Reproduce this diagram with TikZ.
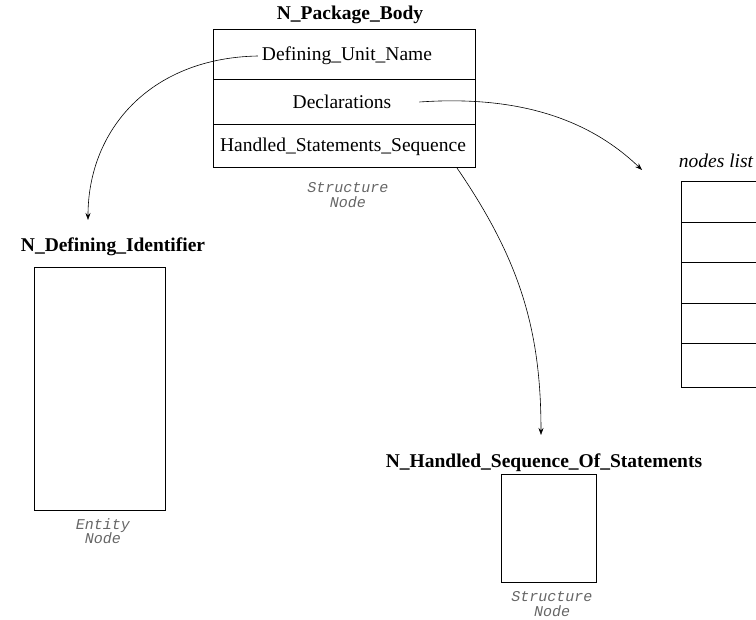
\documentclass[tikz,border=0pt]{standalone}
\usepackage{fontspec}
\setmainfont{Liberation Serif}
\setmonofont{Liberation Mono}
\usetikzlibrary{arrows.meta}
\begin{document}
\begin{tikzpicture}[x=1pt,y=-1pt,
  title/.style={font=\fontsize{19.5}{22}\selectfont\bfseries, inner sep=0pt},
  field/.style={font=\fontsize{19.5}{22}\selectfont, inner sep=0pt},
  row/.style={draw, line width=0.8pt, minimum width=262pt, inner sep=0pt, anchor=north west},
  box/.style={draw, line width=0.8pt, inner sep=0pt, anchor=north west},
  kind/.style={font=\fontsize{15}{14.5}\selectfont\ttfamily\itshape, text=black!60, align=center, inner sep=0pt},
  link/.style={line width=0.6pt, -{Stealth[length=7pt,width=5pt]}}]
\useasboundingbox (0,0) rectangle (756,620);
\clip (0,0) rectangle (756,620);

% package body structure node
\node[title] (pbt) at (350,15) {N\_Package\_Body};
\node[row, minimum height=50pt] (r1) at (213,29) {};
\node[row, minimum height=45pt] (r2) at (213,79) {};
\node[row, minimum height=43pt] (r3) at (213,124) {};
\node[field] (dun) at (347,56) {Defining\_Unit\_Name};
\node[field] (decl) at (342,102) {Declarations};
\node[field] (hss) at (343,147) {Handled\_Statements\_Sequence};
\node[kind] (pbk) at (348,195) {Structure\\Node};

% defining identifier entity node
\node[title] (dit) at (113,247) {N\_Defining\_Identifier};
\node[box, minimum width=131pt, minimum height=243pt] (dib) at (34,267) {};
\node[kind] (dik) at (103,531) {Entity\\Node};

% handled sequence structure node
\node[title] (hst) at (544,463) {N\_Handled\_Sequence\_Of\_Statements};
\node[box, minimum width=95pt, minimum height=108pt] (hsb) at (501,474) {};
\node[kind] (hsk) at (552,604) {Structure\\Node};

% nodes list
\node[font=\fontsize{19.5}{22}\selectfont\itshape, inner sep=0pt] (nlt) at (716,161) {nodes list};
\foreach \i/\y/\h in {1/181/41,2/222/40,3/262/41,4/303/40,5/343/44}
  \node[box, minimum width=120pt, minimum height=\h pt] (nl\i) at (681,\y) {};

% connectors
\coordinate (e1) at (88,220);
\coordinate (e2) at (642,170);
\coordinate (e3) at (541,435);
\coordinate (s3) at (457,168);
\draw[link] ([xshift=-4pt]dun.west) .. controls (150,58) and (88,130) .. (e1);
\draw[link] ([xshift=28pt]decl.east) .. controls (520,95) and (590,120) .. (e2);
\draw[link] (s3) .. controls (520,260) and (541,330) .. (e3);
\end{tikzpicture}
\end{document}
